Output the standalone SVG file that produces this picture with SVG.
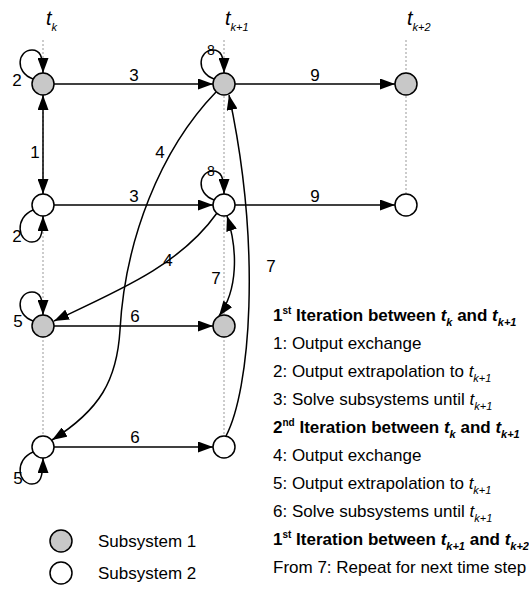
<svg xmlns="http://www.w3.org/2000/svg" width="529" height="595" viewBox="0 0 529 595">
<defs>
<style>
.n1{fill:#c8c8c8;stroke:#000;stroke-width:1.5}
.n2{fill:#fff;stroke:#000;stroke-width:1.5}
.e{fill:none;stroke:#000;stroke-width:1.5;marker-end:url(#ah)}
.d{marker-start:url(#ah)}
.g{stroke:#999;stroke-width:1;stroke-dasharray:2,2;fill:none}
text{font-family:"Liberation Sans",Arial,sans-serif;fill:#000}
.lbl{font-size:17px;text-anchor:middle}
.s8{font-size:14px;text-anchor:middle}
.txt{font-size:17px}
.b{font-weight:bold}
.it{font-style:italic}
.tl{font-size:20px;font-style:italic}
.sub{font-size:11px;font-style:italic}
.sup{font-size:10px}
</style>
<marker id="ah" markerUnits="userSpaceOnUse" markerWidth="15" markerHeight="11" refX="15" refY="5.5" orient="auto-start-reverse">
<path d="M0,0 L15,5.5 L0,11 z" fill="#000"/>
</marker>
</defs>
<rect width="529" height="595" fill="#fff"/>

<g id="timeline">
<text x="46" y="25" class="tl">t<tspan class="sub" dy="6">k</tspan></text>
<text x="225" y="25" class="tl">t<tspan class="sub" dy="6">k+1</tspan></text>
<text x="407" y="25" class="tl">t<tspan class="sub" dy="6">k+2</tspan></text>
<line class="g" x1="43" y1="40" x2="43" y2="436"/>
<line class="g" x1="224" y1="40" x2="224" y2="436"/>
<line class="g" x1="406" y1="40" x2="406" y2="194"/>
</g>

<g id="connectors">
<path class="e" d="M54,84 L213,84"/>
<path class="e" d="M235,84 L395,84"/>
<path class="e" d="M54,205 L213,205"/>
<path class="e" d="M235,205 L395,205"/>
<path class="e" d="M54,326 L213,326"/>
<path class="e" d="M54,447 L213,447"/>
<path class="e d" d="M43,95 L43,194"/>
<path class="e" d="M33,79 C14,72 18,50 32,50 C40,50 43,56 43,73"/>
<path class="e" d="M33,210 C14,218 18,242 32,242 C40,242 43,236 43,216"/>
<path class="e" d="M33,321 C14,314 18,292 32,292 C40,292 43,298 43,315"/>
<path class="e" d="M33,452 C14,460 18,484 32,484 C40,484 43,478 43,458"/>
<path class="e" d="M214,79 C195,72 199,50 213,50 C221,50 224,56 224,73"/>
<path class="e" d="M214,200 C195,193 199,171 213,171 C221,171 224,177 224,194"/>
<path class="e" d="M216,92 C160,150 125,240 120,330 C117,380 100,410 52,440"/>
<path class="e" d="M217,213 C180,265 120,290 54,321"/>
<path class="e d" d="M227,216 C238,250 238,290 219,316"/>
<path class="e" d="M226,436 C250,390 262,250 229,95"/>
<text class="lbl" x="17" y="86">2</text>
<text class="lbl" x="17" y="242">2</text>
<text class="lbl" x="18" y="327">5</text>
<text class="lbl" x="18" y="484">5</text>
<text class="lbl" x="35" y="158">1</text>
<text class="lbl" x="134" y="81">3</text>
<text class="lbl" x="134" y="202">3</text>
<text class="lbl" x="315" y="81">9</text>
<text class="lbl" x="315" y="202">9</text>
<text class="lbl" x="135" y="322">6</text>
<text class="lbl" x="135" y="443">6</text>
<text class="lbl" x="160" y="158">4</text>
<text class="lbl" x="168" y="266">4</text>
<text class="lbl" x="216" y="284">7</text>
<text class="lbl" x="271" y="272">7</text>
<text class="s8" x="211" y="55">8</text>
<text class="s8" x="211" y="176">8</text>
</g>

<g id="n-s1-tk"><circle class="n1" cx="43" cy="84" r="11"/></g>
<g id="n-s1-tk1"><circle class="n1" cx="224" cy="84" r="11"/></g>
<g id="n-s1-tk2"><circle class="n1" cx="406" cy="84" r="11"/></g>
<g id="n-s2-tk"><circle class="n2" cx="43" cy="205" r="11"/></g>
<g id="n-s2-tk1"><circle class="n2" cx="224" cy="205" r="11"/></g>
<g id="n-s2-tk2"><circle class="n2" cx="406" cy="205" r="11"/></g>
<g id="n-s1-it2-tk"><circle class="n1" cx="43" cy="326" r="11"/></g>
<g id="n-s1-it2-tk1"><circle class="n1" cx="224" cy="326" r="11"/></g>
<g id="n-s2-it2-tk"><circle class="n2" cx="43" cy="447" r="11"/></g>
<g id="n-s2-it2-tk1"><circle class="n2" cx="224" cy="447" r="11"/></g>

<g id="legend">
<circle class="n1" cx="61" cy="541" r="11"/>
<text class="txt" x="98" y="547">Subsystem 1</text>
<circle class="n2" cx="61" cy="573" r="11"/>
<text class="txt" x="98" y="579">Subsystem 2</text>
</g>

<g id="steps">
<text class="txt b" x="273" y="321">1<tspan class="sup" dy="-7">st</tspan><tspan dy="7"> Iteration between </tspan><tspan class="it">t</tspan><tspan class="sub" dy="5">k</tspan><tspan dy="-5"> and </tspan><tspan class="it">t</tspan><tspan class="sub" dy="5">k+1</tspan></text>
<text class="txt" x="273" y="349">1: Output exchange</text>
<text class="txt" x="273" y="377">2: Output extrapolation to <tspan class="it">t</tspan><tspan class="sub" dy="5">k+1</tspan></text>
<text class="txt" x="273" y="405">3: Solve subsystems until <tspan class="it">t</tspan><tspan class="sub" dy="5">k+1</tspan></text>
<text class="txt b" x="273" y="433">2<tspan class="sup" dy="-7">nd</tspan><tspan dy="7"> Iteration between </tspan><tspan class="it">t</tspan><tspan class="sub" dy="5">k</tspan><tspan dy="-5"> and </tspan><tspan class="it">t</tspan><tspan class="sub" dy="5">k+1</tspan></text>
<text class="txt" x="273" y="461">4: Output exchange</text>
<text class="txt" x="273" y="489">5: Output extrapolation to <tspan class="it">t</tspan><tspan class="sub" dy="5">k+1</tspan></text>
<text class="txt" x="273" y="517">6: Solve subsystems until <tspan class="it">t</tspan><tspan class="sub" dy="5">k+1</tspan></text>
<text class="txt b" x="273" y="545">1<tspan class="sup" dy="-7">st</tspan><tspan dy="7"> Iteration between </tspan><tspan class="it">t</tspan><tspan class="sub" dy="5">k+1</tspan><tspan dy="-5"> and </tspan><tspan class="it">t</tspan><tspan class="sub" dy="5">k+2</tspan></text>
<text class="txt" x="273" y="573">From 7: Repeat for next time step</text>
</g>
</svg>
